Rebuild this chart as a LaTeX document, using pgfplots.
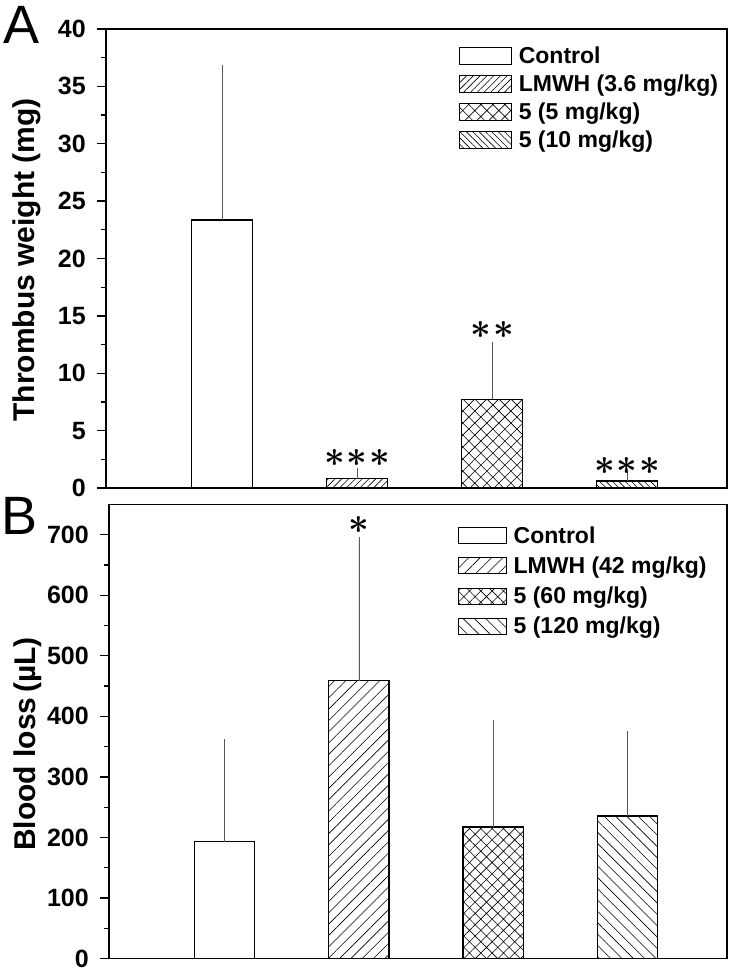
\documentclass[border=0pt]{standalone}
\usepackage{fontspec}
\setmainfont{Liberation Sans}
\usepackage{bm}
\usepackage{pgfplots}
\pgfplotsset{compat=1.18}
\usetikzlibrary{patterns,patterns.meta}

\newcommand{\st}{{\bm{\ast}}}

\pgfplotsset{
  panel/.style={
    scale only axis,
    axis line style={line width=1.6pt},
    xmin=0.14, xmax=4.74,
    xtick=\empty, xmajorticks=false,
    ytick pos=left,
    tick align=outside,
    major tick length=9pt, minor tick length=5pt,
    tick style={black, line width=1.3pt},
    minor y tick num=1,
    /pgf/number format/assume math mode=true,
    yticklabel style={font=\fontsize{25}{25}\selectfont\bfseries, xshift=-11pt, inner sep=0pt},
    ylabel style={font=\fontsize{30}{30}\selectfont\bfseries, anchor=center},
    legend style={draw=none, fill=none, anchor=north west, inner sep=0pt,
      font=\fontsize{23}{23}\selectfont\bfseries,
      /tikz/every odd column/.append style={column sep=5pt}},
    legend cell align=left,
  },
  barA/.style={ybar, bar width=0.45, bar shift=0pt, draw=black, line width=1.3pt,
    pattern color=black,
    error bars/y dir=plus, error bars/y explicit,
    error bars/error bar style={line width=0.7pt, black!65},
    error bars/error mark options={line width=0.7pt, black!65, mark size=4pt},
  },
  legA/.style={legend image code/.code={\draw[##1, line width=0.9pt] (0pt,-8.5pt) rectangle (52pt,8.5pt);}},
  legB/.style={legend image code/.code={\draw[##1, line width=0.9pt] (0pt,-8pt) rectangle (48pt,8pt);}},
}

\begin{document}
\begin{tikzpicture}
\useasboundingbox (0pt,0pt) rectangle (731pt,970pt);

% Panel A
\begin{axis}[panel,
  at={(106pt,482pt)}, anchor=south west,
  width=621pt, height=459pt,
  ymin=0, ymax=40, ytick={0,5,...,40},
  ylabel={Thrombus weight (mg)},
  ylabel style={at={(axis description cs:-0.128,0.497)}},
  legend style={at={(rel axis cs:0.568,0.966)}, row sep=6pt},
]
\addplot[barA, fill=white, legA] coordinates {(1,23.36) +- (0,13.14)};
\addlegendentry{Control}
\addplot[barA, pattern={Lines[angle=45,distance=4.8pt,line width=0.6pt]}, legA] coordinates {(2,0.81) +- (0,0.61)};
\addlegendentry{LMWH (3.6 mg/kg)}
\addplot[barA, pattern={Hatch[angle=45,distance=8.5pt,line width=0.6pt]}, legA] coordinates {(3,7.73) +- (0,4.67)};
\addlegendentry{5 (5 mg/kg)}
\addplot[barA, pattern={Lines[angle=-45,distance=4.5pt,line width=0.6pt]}, legA] coordinates {(4,0.61) +- (0,0.46)};
\addlegendentry{5 (10 mg/kg)}
\node[scale=3.6] at (axis cs:2,2.6) {$\st\mkern1mu\st\mkern1mu\st$};
\node[scale=3.6] at (axis cs:3,13.8) {$\st\mkern1mu\st$};
\node[scale=3.6] at (axis cs:4,1.95) {$\st\mkern1mu\st\mkern1mu\st$};
\end{axis}

% Panel B
\begin{axis}[panel,
  at={(109pt,11.5pt)}, anchor=south west,
  width=618pt, height=454pt,
  ymin=0, ymax=750, ytick={0,100,...,700},
  ylabel={Blood loss\,(µL)},
  ylabel style={at={(axis description cs:-0.131,0.4725)}},
  legend style={at={(rel axis cs:0.564,0.956)}, row sep=8pt},
]
\addplot[barA, fill=white, legB] coordinates {(1,193) +- (0,163)};
\addlegendentry{Control}
\addplot[barA, pattern={Lines[angle=45,distance=8pt,line width=0.6pt]}, legB] coordinates {(2,459) +- (0,231)};
\addlegendentry{LMWH (42 mg/kg)}
\addplot[barA, pattern={Hatch[angle=45,distance=8pt,line width=0.6pt]}, legB] coordinates {(3,217) +- (0,171)};
\addlegendentry{5 (60 mg/kg)}
\addplot[barA, pattern={Lines[angle=-45,distance=8pt,line width=0.6pt]}, legB] coordinates {(4,235.5) +- (0,133.5)};
\addlegendentry{5 (120 mg/kg)}
\node[scale=3.6] at (axis cs:2,716) {$\st$};
\end{axis}

\node[anchor=base west, inner sep=0pt, font=\fontsize{54}{54}\selectfont] at (3pt,926.7pt) {A};
\node[anchor=base west, inner sep=0pt, font=\fontsize{54}{54}\selectfont] at (1pt,435pt) {B};
\end{tikzpicture}
\end{document}
